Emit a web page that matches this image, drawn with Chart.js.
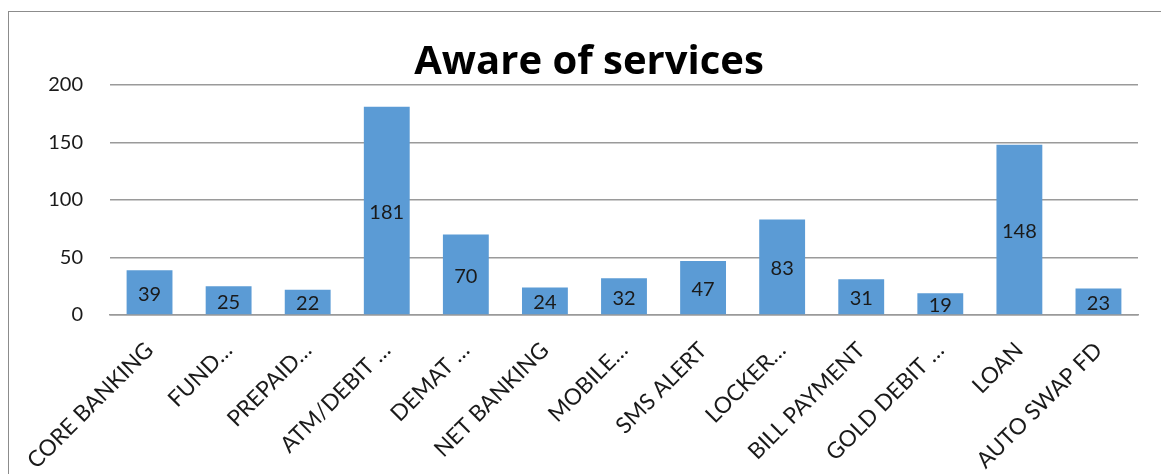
<!DOCTYPE html>
<html>
<head>
<meta charset="utf-8">
<script src="https://cdn.jsdelivr.net/npm/chart.js@4/dist/chart.umd.min.js"></script>
<style>
  html, body { margin: 0; padding: 0; background: #fff; overflow: hidden; }
  #frame { position: absolute; left: 8px; top: 11px; width: 1200px; height: 520px; border: 1px solid #8c8c8c; box-sizing: border-box; }
  #wrap { position: absolute; left: 0; top: 0; width: 1161px; height: 474px; }
</style>
</head>
<body>
<div id="frame"></div>
<div id="wrap"><canvas id="c"></canvas></div>
<script>
const CATEGORIES = ['CORE BANKING', 'FUND…', 'PREPAID…', 'ATM/DEBIT …', 'DEMAT …', 'NET BANKING',
    'MOBILE…', 'SMS ALERT', 'LOCKER…', 'BILL PAYMENT', 'GOLD DEBIT …', 'LOAN', 'AUTO SWAP FD'];
const AWARE = [39, 25, 22, 181, 70, 24, 32, 47, 83, 31, 19, 148, 23];
const Y_TICKS = [0, 50, 100, 150, 200];
const TITLE = 'Aware of services';

const BAR_COLOR = '#5b9bd5';
const GRID_COLOR = '#9a9a9a';
const TEXT_COLOR = '#1a1a1a';

// value labels centred inside each bar
const barValues = {
    id: 'barValues',
    afterDatasetsDraw(chart) {
        const ctx = chart.ctx;
        const meta = chart.getDatasetMeta(0);
        ctx.save();
        ctx.font = '20px Lato';
        ctx.fillStyle = TEXT_COLOR;
        ctx.textAlign = 'center';
        ctx.textBaseline = 'middle';
        meta.data.forEach((bar, i) => {
            ctx.fillText(String(AWARE[i]), bar.x, (bar.y + bar.base) / 2 + 2);
        });
        ctx.restore();
    }
};

new Chart(document.getElementById('c'), {
    type: 'bar',
    data: {
        labels: CATEGORIES,
        datasets: [{ data: AWARE, backgroundColor: BAR_COLOR, categoryPercentage: 1, barPercentage: 0.58 }]
    },
    options: {
        responsive: true,
        maintainAspectRatio: false,
        animation: false,
        layout: { padding: { left: 40, right: 23, top: 0, bottom: 0 } },
        plugins: {
            legend: { display: false },
            tooltip: { enabled: false },
            title: {
                display: true,
                text: TITLE,
                color: '#000',
                font: { family: 'Open Sans', size: 40, weight: 'bold', lineHeight: 1.1 },
                padding: { top: 41, bottom: 0 }
            }
        },
        scales: {
            y: {
                min: 0, max: 200,
                afterBuildTicks: s => { s.ticks = Y_TICKS.map(v => ({ value: v })); },
                afterFit: s => { s.width = 70; },
                border: { display: false },
                grid: { color: GRID_COLOR, lineWidth: 1.5, drawTicks: false },
                ticks: { color: TEXT_COLOR, font: { family: 'Lato', size: 20 }, padding: 27 }
            },
            x: {
                afterFit: s => { s.height = 159; },
                border: { color: GRID_COLOR, width: 1.5 },
                grid: { display: false, drawTicks: false },
                ticks: { color: TEXT_COLOR, font: { family: 'Lato', size: 22.5 }, minRotation: 45, maxRotation: 45,
                    autoSkip: false, padding: 22 }
            }
        }
    },
    plugins: [barValues]
});
</script>
</body>
</html>
